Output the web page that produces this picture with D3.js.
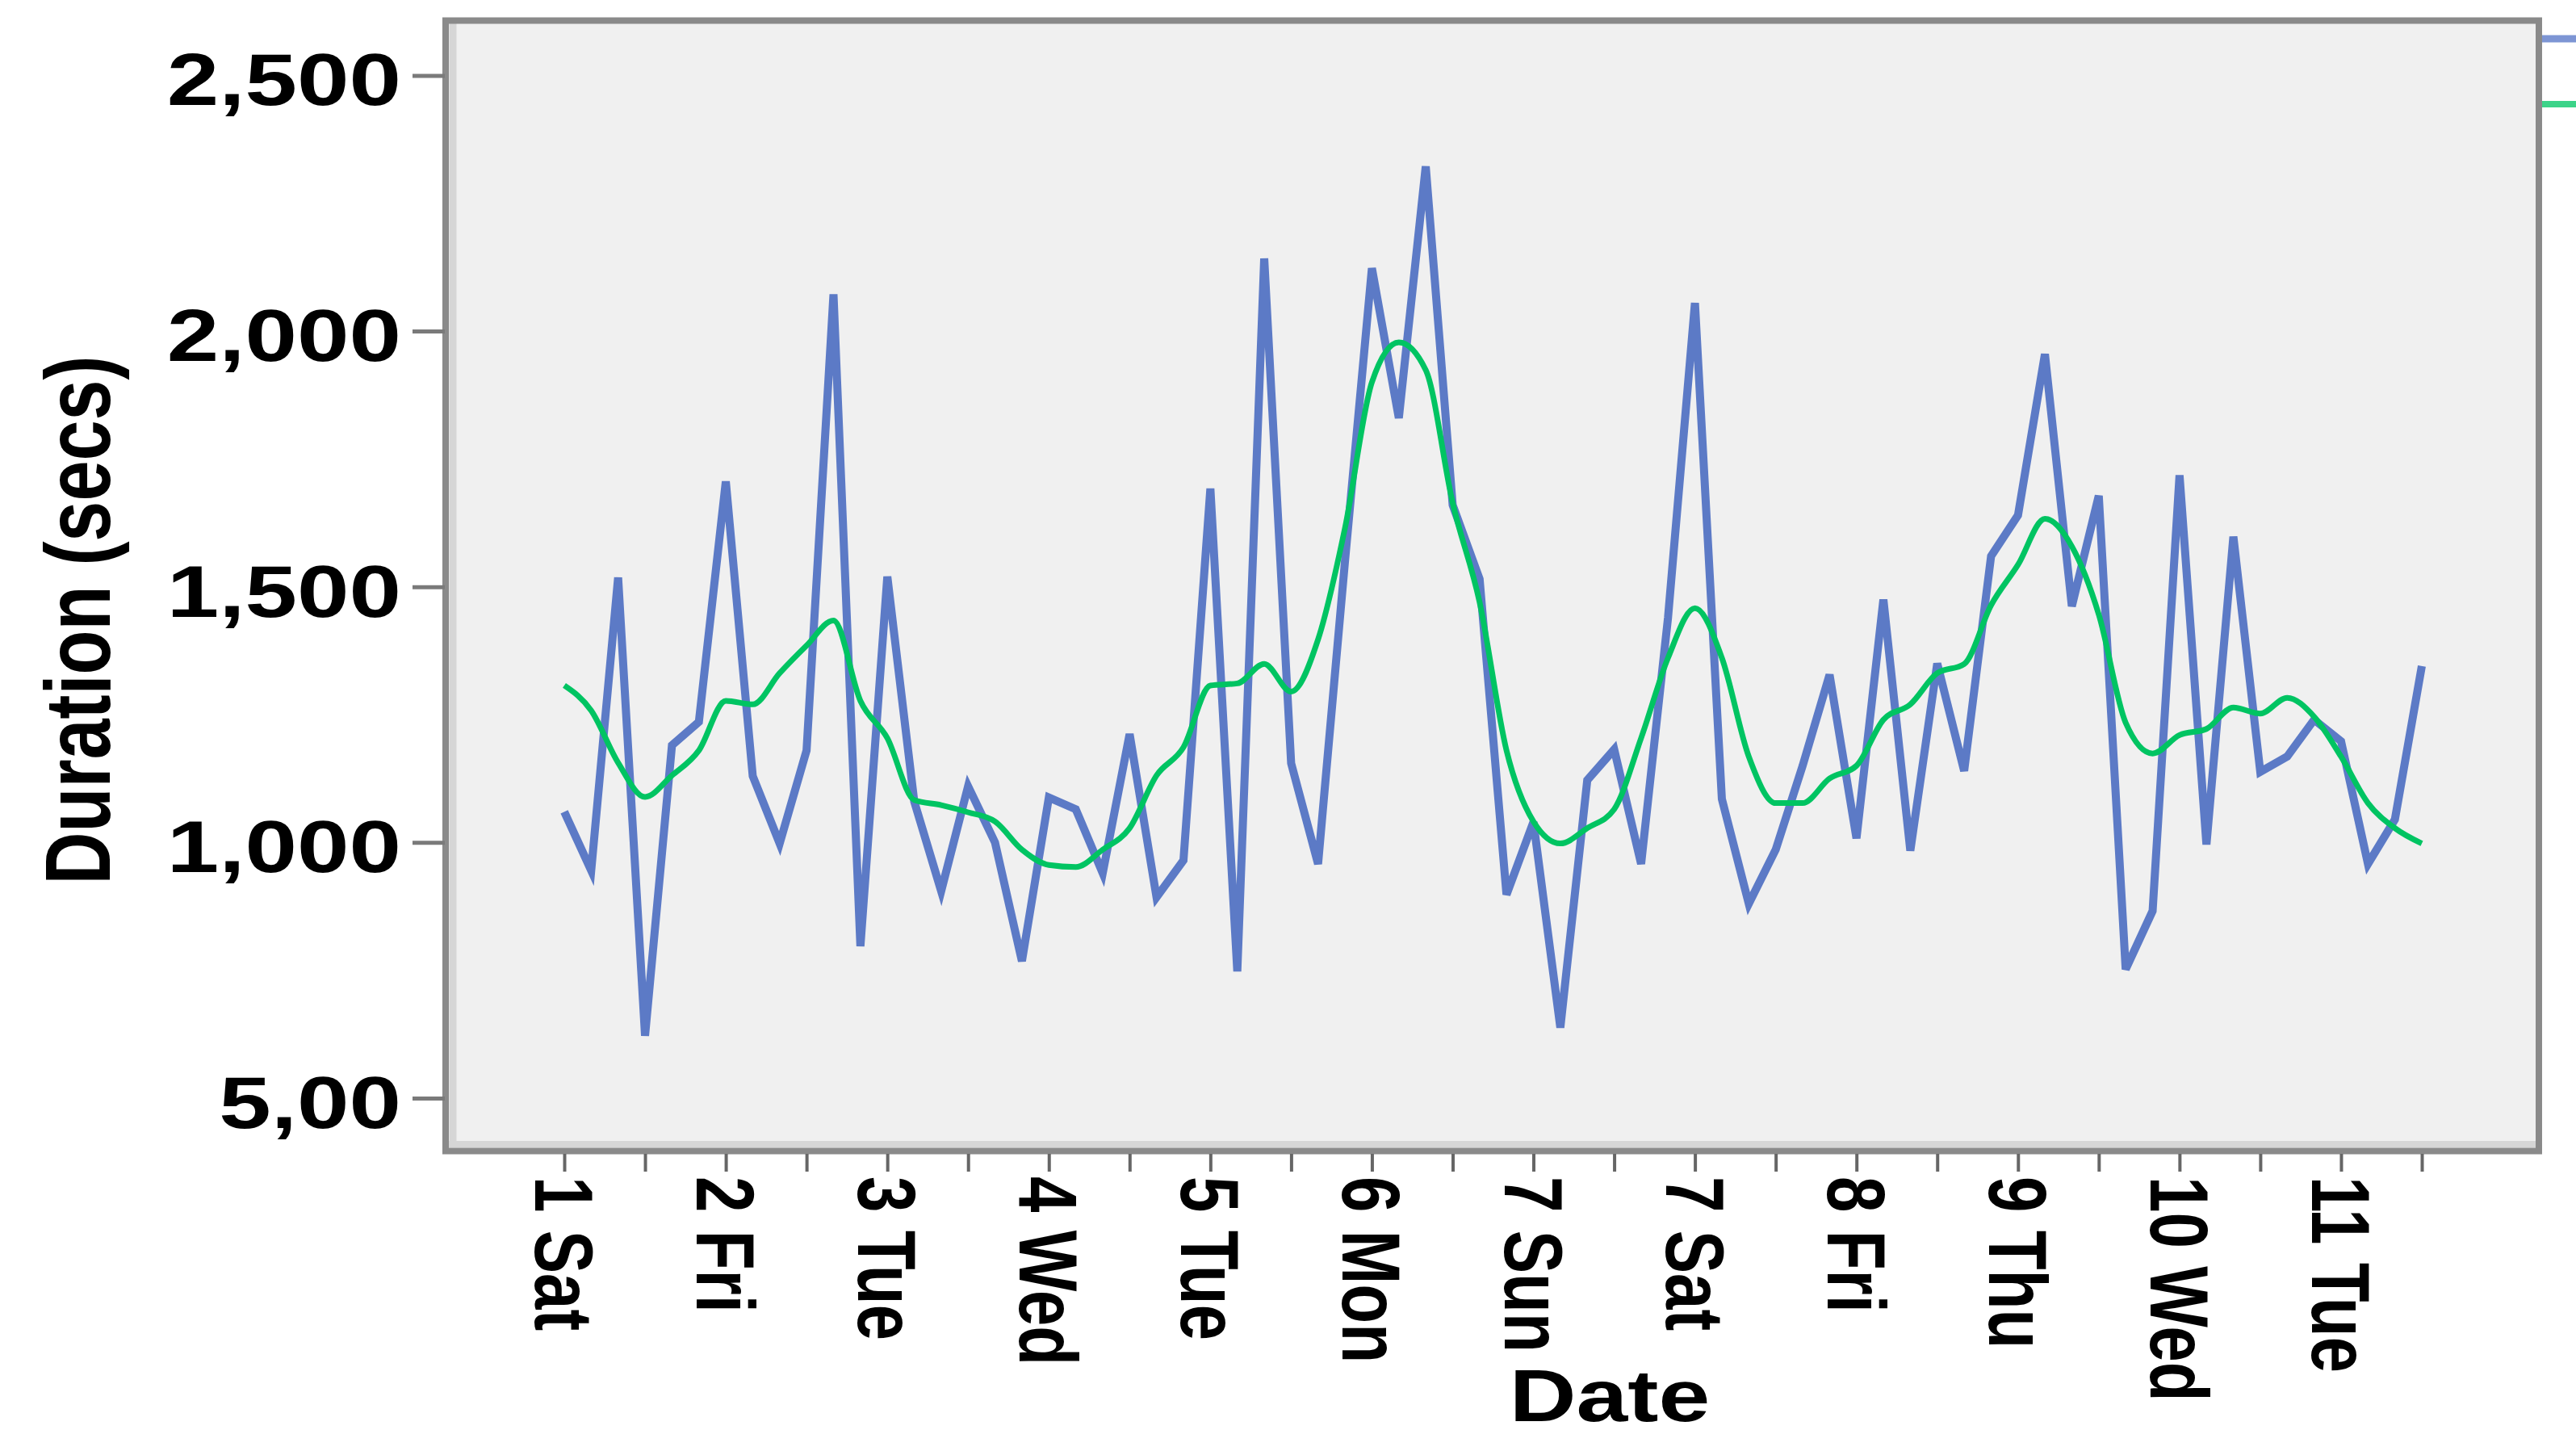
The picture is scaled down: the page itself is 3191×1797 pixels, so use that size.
<!DOCTYPE html>
<html><head><meta charset="utf-8">
<script src="https://cdn.jsdelivr.net/npm/d3@7"></script>
<style>html,body{margin:0;padding:0;background:#fff;} svg{display:block;}</style>
</head><body>
<svg id="chart" width="3191" height="1797"></svg>
<script>
// ---- data ----
const dateLabels = ["1 Sat","2 Fri","3 Tue","4 Wed","5 Tue","6 Mon","7 Sun","7 Sat","8 Fri","9 Thu","10 Wed","11 Tue"];
const duration = [1060,945,1518,622,1190,1236,1706,1130,998,1180,2072,797,1520,1080,905,1110,1000,768,1088,1065,
  940,1212,893,965,1692,748,2142,1155,958,1550,2123,1830,2322,1660,1515,898,1040,638,1122,1182,
  958,1440,2055,1085,880,986,1150,1328,1008,1475,984,1350,1140,1560,1640,1955,1462,1678,752,866,
  1718,996,1598,1138,1168,1240,1198,958,1045,1345];
const smoothed = [1307,1258,1156,1089,1131,1180,1277,1270,1331,1385,1434,1277,1204,1083,1073,1059,1041,986,956,952,
  986,1028,1131,1186,1307,1311,1349,1295,1397,1615,1900,1978,1924,1664,1470,1180,1041,998,1028,1065,
  1204,1361,1458,1361,1168,1077,1077,1125,1150,1240,1270,1331,1349,1464,1543,1633,1579,1446,1234,1174,
  1210,1222,1264,1252,1283,1246,1168,1077,1028,998];
const yTickValues = [500,1000,1500,2000,2500];
const yTickLabels = ["5,00","1,000","1,500","2,000","2,500"];
const xTitle = "Date";
const yTitle = "Duration (secs)";

// ---- layout ----
const svg = d3.select("#chart");
const FONT = "'Liberation Sans', Arial, sans-serif";
const SX = 1.275; // horizontal stretch of the original picture
const frame = {x0: 552, y0: 25.5, x1: 3145, y1: 1425.5};

const x = d3.scaleLinear().domain([0, duration.length - 1]).range([699, 3000]);
const y = d3.scaleLinear().domain([500, 2500]).range([1360, 93.4]);

// plot background + frame
svg.append("rect").attr("x", frame.x0).attr("y", frame.y0)
  .attr("width", frame.x1 - frame.x0).attr("height", frame.y1 - frame.y0)
  .attr("fill", "#f0f0f0");
svg.append("line").attr("x1", 561).attr("x2", 561).attr("y1", 29).attr("y2", 1421)
  .attr("stroke", "#d6d6d6").attr("stroke-width", 9);
svg.append("line").attr("x1", 556).attr("x2", 3141).attr("y1", 1417).attr("y2", 1417)
  .attr("stroke", "#d6d6d6").attr("stroke-width", 8);
svg.append("rect").attr("x", frame.x0).attr("y", frame.y0)
  .attr("width", frame.x1 - frame.x0).attr("height", frame.y1 - frame.y0)
  .attr("fill", "none").attr("stroke", "#8a8a8a").attr("stroke-width", 8);

// y axis ticks
const yAxis = d3.axisLeft(y).tickValues(yTickValues).tickSize(40).tickFormat("");
const gy = svg.append("g").attr("transform", "translate(551,0)").call(yAxis);
gy.select(".domain").remove();
gy.selectAll(".tick line").attr("stroke", "#7a7a7a").attr("stroke-width", 5);

// y tick labels
svg.append("g").selectAll("text").data(yTickValues).join("text")
  .attr("transform", d => `translate(497,${y(d) + 37}) scale(${SX},1)`)
  .attr("text-anchor", "end")
  .attr("font-family", FONT).attr("font-weight", "bold").attr("font-size", 91)
  .attr("fill", "#000")
  .text((d, i) => yTickLabels[i]);

// x axis ticks
const xAxis = d3.axisBottom(x).tickValues(d3.range(0, duration.length, 3)).tickSize(22).tickFormat("");
const gx = svg.append("g").attr("transform", "translate(0,1429)").call(xAxis);
gx.select(".domain").remove();
gx.selectAll(".tick line").attr("stroke", "#666").attr("stroke-width", 4);

// x tick labels (rotated)
const labelIdx = dateLabels.map((d, k) => k * 6);
svg.append("g").selectAll("text").data(labelIdx).join("text")
  .attr("transform", d => `translate(${x(d) - 36},1457) scale(${SX},1) rotate(90)`)
  .attr("text-anchor", "start")
  .attr("font-family", FONT).attr("font-weight", "bold").attr("font-size", 80)
  .attr("fill", "#000")
  .text((d, k) => dateLabels[k]);

// axis titles
svg.append("text")
  .attr("transform", `translate(1994,1760) scale(${SX},1)`)
  .attr("text-anchor", "middle")
  .attr("font-family", FONT).attr("font-weight", "bold").attr("font-size", 90)
  .attr("fill", "#000").text(xTitle);
svg.append("text")
  .attr("transform", `translate(136,768) scale(${SX},1) rotate(-90)`)
  .attr("text-anchor", "middle")
  .attr("font-family", FONT).attr("font-weight", "bold").attr("font-size", 90)
  .attr("fill", "#000").text(yTitle);

// lines
const blueLine = d3.line().x((d, i) => x(i)).y(d => y(d));
svg.append("path").datum(duration)
  .attr("d", blueLine)
  .attr("fill", "none").attr("stroke", "#5c7ac6").attr("stroke-width", 10);

const greenLine = d3.line().x((d, i) => x(i)).y(d => y(d)).curve(d3.curveMonotoneX);
svg.append("path").datum(smoothed)
  .attr("d", greenLine)
  .attr("fill", "none").attr("stroke", "#00c462").attr("stroke-width", 7);

// clipped legend marks at the right edge
svg.append("line").attr("x1", 3149).attr("x2", 3191).attr("y1", 48).attr("y2", 48)
  .attr("stroke", "#7d95d4").attr("stroke-width", 9);
svg.append("line").attr("x1", 3149).attr("x2", 3191).attr("y1", 129).attr("y2", 129)
  .attr("stroke", "#3cd489").attr("stroke-width", 8);
</script>
</body></html>
